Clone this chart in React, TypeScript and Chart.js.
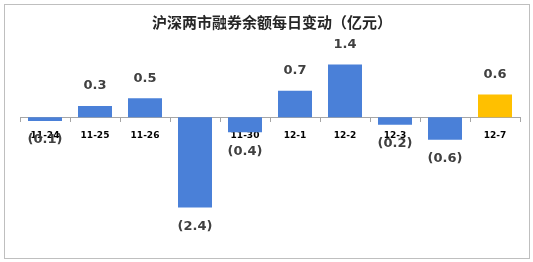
import React, { useEffect, useRef } from "react";
import { Chart, registerables } from "chart.js";

Chart.register(...registerables);

const title = "沪深两市融券余额每日变动（亿元）";
const categories = ["11-24", "11-25", "11-26", "11-27", "11-30", "12-1", "12-2", "12-3", "12-4", "12-7"];
const values = [-0.1, 0.3, 0.5, -2.4, -0.4, 0.7, 1.4, -0.2, -0.6, 0.6];
const barColors = ["#4a80d8", "#4a80d8", "#4a80d8", "#4a80d8", "#4a80d8", "#4a80d8", "#4a80d8", "#4a80d8", "#4a80d8", "#ffc000"];

const fmt = (v: number) => (v < 0 ? `(${Math.abs(v).toFixed(1)})` : v.toFixed(1));

const overlay = {
  id: "overlay",
  afterDraw(chart: any) {
    const { ctx } = chart;
    const meta = chart.getDatasetMeta(0);
    ctx.save();
    ctx.fillStyle = "#404040";
    ctx.font = "bold 13px 'DejaVu Sans'";
    ctx.textAlign = "center";
    ctx.textBaseline = "middle";
    meta.data.forEach((bar: any, i: number) => {
      const v = values[i];
      const y = v >= 0 ? bar.y - 20 : bar.y + 19;
      ctx.fillText(fmt(v), bar.x, y);
    });
    ctx.fillStyle = "#262626";
    ctx.font = "bold 15px 'Noto Sans CJK SC'";
    ctx.fillText(title, 272, 22);
    ctx.restore();
  },
};

export default function App() {
  const ref = useRef<HTMLCanvasElement>(null);
  useEffect(() => {
    const chart = new Chart(ref.current!, {
      type: "bar",
      data: {
        labels: categories,
        datasets: [
          {
            data: values,
            backgroundColor: barColors,
            barPercentage: 0.68,
            categoryPercentage: 1,
          },
        ],
      },
      options: {
        animation: false,
        responsive: false,
        layout: { padding: { left: 20, right: 13, top: 57, bottom: 32 } },
        plugins: { legend: { display: false }, tooltip: { enabled: false }, title: { display: false } },
        scales: {
          y: { display: false, min: -3, max: 1.6 },
          x: {
            position: { y: 0 } as any,
            z: 1,
            grid: { offset: true, drawOnChartArea: false, tickLength: 4, color: "#a6a6a6" },
            border: { color: "#a6a6a6" },
            ticks: { color: "#000000", font: { family: "'DejaVu Sans'", size: 9, weight: "bold" }, padding: 9 },
          },
        },
      },
      plugins: [overlay],
    });
    return () => chart.destroy();
  }, []);
  return (
    <div style={{ position: "fixed", left: 0, top: 0, width: 533, height: 262, background: "#fff" }}>
      <div style={{ position: "absolute", left: 4, top: 4, width: 524, height: 253, border: "1px solid #bfbfbf" }} />
      <canvas ref={ref} width={533} height={262} style={{ position: "absolute", left: 0, top: 0 }} />
    </div>
  );
}
